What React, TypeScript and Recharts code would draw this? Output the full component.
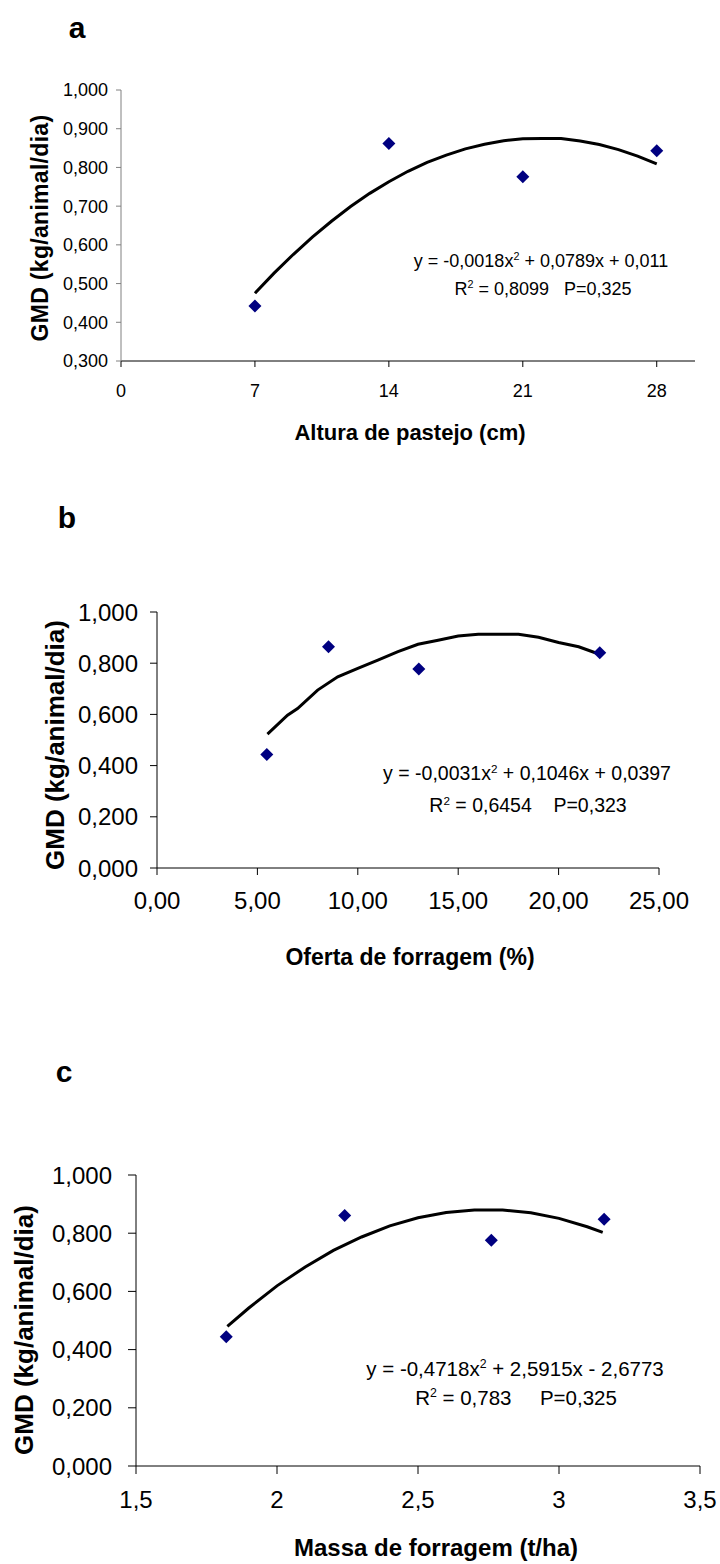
import React from 'react'
import { ScatterChart, Scatter, XAxis, YAxis } from 'recharts'

// a: Altura de pastejo
const alturaX = [7, 14, 21, 28]
const alturaGMD = [0.442, 0.862, 0.776, 0.843]
const alturaCurveX = [7, 8, 9, 10, 11, 12, 13, 14, 15, 16, 17, 18, 19, 20, 21, 22, 23, 24, 25, 26, 27, 28]
const alturaCurveY = [0.475, 0.527, 0.575, 0.62, 0.661, 0.699, 0.733, 0.763, 0.79, 0.813, 0.832, 0.848, 0.86, 0.869, 0.874, 0.875, 0.875, 0.868, 0.859, 0.846, 0.829, 0.809]
const alturaTicksY = [0.3, 0.4, 0.5, 0.6, 0.7, 0.8, 0.9, 1.0]
const alturaTicksX = [0, 7, 14, 21, 28]

// b: Oferta de forragem
const ofertaX = [5.47, 8.54, 13.04, 22.05]
const ofertaGMD = [0.443, 0.864, 0.777, 0.841]
const ofertaCurveX = [5.5, 6.5, 7, 8, 9, 10, 11, 12, 13, 14, 15, 16, 17, 18, 19, 20, 21, 22]
const ofertaCurveY = [0.523, 0.597, 0.623, 0.695, 0.747, 0.78, 0.812, 0.845, 0.874, 0.89, 0.906, 0.913, 0.913, 0.913, 0.901, 0.881, 0.864, 0.836]
const ofertaTicksY = [0, 0.2, 0.4, 0.6, 0.8, 1.0]
const ofertaTicksX = [0, 5, 10, 15, 20, 25]

// c: Massa de forragem
const massaX = [1.82, 2.24, 2.76, 3.16]
const massaGMD = [0.444, 0.861, 0.776, 0.848]
const massaCurveX = [1.824, 1.9, 2.0, 2.1, 2.2, 2.3, 2.4, 2.5, 2.6, 2.7, 2.8, 2.9, 3.0, 3.1, 3.155]
const massaCurveY = [0.48, 0.543, 0.619, 0.684, 0.741, 0.787, 0.825, 0.853, 0.871, 0.88, 0.88, 0.87, 0.851, 0.822, 0.803]
const massaTicksY = [0, 0.2, 0.4, 0.6, 0.8, 1.0]
const massaTicksX = [1.5, 2, 2.5, 3, 3.5]

const FONT = 'Arial, "Liberation Sans", sans-serif'

const zip = (xs: number[], ys: number[]) => xs.map((x, i) => ({ x, y: ys[i] }))

const Diamond = (props: any) => {
  const { cx, cy } = props
  const r = 6.5
  return <path d={`M${cx},${cy - r}L${cx + r},${cy}L${cx},${cy + r}L${cx - r},${cy}Z`} fill="#000080" />
}

const fmt3 = (v: number) => v.toFixed(3).replace('.', ',')
const fmt2 = (v: number) => v.toFixed(2).replace('.', ',')
const fmtC = (v: number) => String(v).replace('.', ',')

function Panel(p: any) {
  return (
    <div style={{ position: 'absolute', left: 0, top: p.top }}>
      <ScatterChart width={720} height={p.height} margin={{ top: p.mTop, right: p.mRight, bottom: 0, left: 0 }}>
        <XAxis
          type="number"
          dataKey="x"
          domain={p.xDomain}
          ticks={p.xTicks}
          interval={0}
          height={p.xHeight}
          tickSize={p.xTickSize}
          tickMargin={p.xTickMargin}
          tickFormatter={p.xFmt}
          axisLine={{ stroke: '#000' }}
          tickLine={{ stroke: '#000' }}
          tick={{ fill: '#000', fontSize: p.tickFont, fontFamily: FONT }}
          allowDataOverflow
        />
        <YAxis
          type="number"
          dataKey="y"
          domain={p.yDomain}
          ticks={p.yTicks}
          interval={0}
          width={p.yWidth}
          tickSize={p.yTickSize}
          tickMargin={p.yTickMargin}
          tickFormatter={fmt3}
          axisLine={{ stroke: p.yColor }}
          tickLine={{ stroke: p.yColor }}
          tick={{ fill: '#000', fontSize: p.tickFont, fontFamily: FONT }}
          allowDataOverflow
        />
        <Scatter
          data={p.curve}
          line={{ stroke: '#000', strokeWidth: 3 }}
          shape={() => <g />}
          isAnimationActive={false}
        />
        <Scatter data={p.points} shape={<Diamond />} isAnimationActive={false} />
      </ScatterChart>
    </div>
  )
}

const T = ({ x, y, size, bold, rotate, children, spacing }: any) => (
  <div
    style={{
      position: 'absolute',
      left: x,
      top: y,
      transform: `translate(-50%, -50%)${rotate ? ' rotate(-90deg)' : ''}`,
      fontFamily: FONT,
      fontSize: size,
      fontWeight: bold ? 'bold' : 'normal',
      whiteSpace: 'pre',
      color: '#000',
      letterSpacing: spacing || 0,
      lineHeight: 1,
    }}
  >
    {children}
  </div>
)

export default function App() {
  return (
    <div style={{ position: 'absolute', left: 0, top: 0, width: 720, height: 1564, background: '#fff', overflow: 'hidden' }}>
      <Panel
        top={0} height={480} mTop={90} mRight={25} xHeight={119} yWidth={121}
        xDomain={[0, 30]} xTicks={alturaTicksX} yDomain={[0.3, 1.0]} yTicks={alturaTicksY}
        xTickSize={6} xTickMargin={17} yTickSize={5} yTickMargin={8} tickFont={18}
        xFmt={(v: number) => String(v)} yColor="#808080"
        points={zip(alturaX, alturaGMD)} curve={zip(alturaCurveX, alturaCurveY)}
      />
      <Panel
        top={480} height={520} mTop={132} mRight={61} xHeight={132} yWidth={157}
        xDomain={[0, 25]} xTicks={ofertaTicksX} yDomain={[0, 1.0]} yTicks={ofertaTicksY}
        xTickSize={7} xTickMargin={17} yTickSize={7} yTickMargin={12} tickFont={24}
        xFmt={fmt2} yColor="#000"
        points={zip(ofertaX, ofertaGMD)} curve={zip(ofertaCurveX, ofertaCurveY)}
      />
      <Panel
        top={1000} height={564} mTop={175} mRight={20} xHeight={98} yWidth={136}
        xDomain={[1.5, 3.5]} xTicks={massaTicksX} yDomain={[0, 1.0]} yTicks={massaTicksY}
        xTickSize={8} xTickMargin={17} yTickSize={8} yTickMargin={16} tickFont={24}
        xFmt={fmtC} yColor="#000"
        points={zip(massaX, massaGMD)} curve={zip(massaCurveX, massaCurveY)}
      />

      <T x={77} y={28} size={30} bold>a</T>
      <T x={67} y={518} size={30} bold>b</T>
      <T x={64} y={1072} size={30} bold>c</T>

      <T x={40} y={228} size={23} bold rotate spacing={0.3}>GMD (kg/animal/dia)</T>
      <T x={55} y={745} size={26} bold rotate>GMD (kg/animal/dia)</T>
      <T x={24} y={1330} size={26} bold rotate>GMD (kg/animal/dia)</T>

      <T x={410} y={433} size={22} bold>Altura de pastejo (cm)</T>
      <T x={410} y={957} size={23} bold>Oferta de forragem (%)</T>
      <T x={436} y={1548} size={24} bold>Massa de forragem (t/ha)</T>

      <T x={541} y={260} size={18}>y = -0,0018x<sup style={{ fontSize: '0.6em' }}>2</sup> + 0,0789x + 0,011</T>
      <T x={543} y={288} size={18}>R<sup style={{ fontSize: '0.6em' }}>2</sup> = 0,8099   P=0,325</T>

      <T x={527} y={773} size={19.5}>y = -0,0031x<sup style={{ fontSize: '0.6em' }}>2</sup> + 0,1046x + 0,0397</T>
      <T x={528} y={805} size={19.5}>R<sup style={{ fontSize: '0.6em' }}>2</sup> = 0,6454    P=0,323</T>

      <T x={515} y={1369} size={20.5}>y = -0,4718x<sup style={{ fontSize: '0.6em' }}>2</sup> + 2,5915x - 2,6773</T>
      <T x={516} y={1398} size={20.5}>R<sup style={{ fontSize: '0.6em' }}>2</sup> = 0,783     P=0,325</T>
    </div>
  )
}
